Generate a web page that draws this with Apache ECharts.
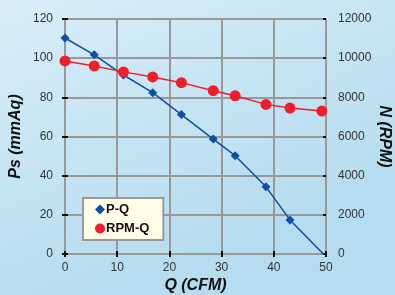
<!DOCTYPE html>
<html><head><meta charset="utf-8">
<script src="https://cdn.jsdelivr.net/npm/echarts@6/dist/echarts.min.js"></script>
<style>html,body{margin:0;padding:0;}#c{width:395px;height:295px;}</style>
</head><body><div id="c"></div>
<script>
const flowQ = [0, 5.6, 11.2, 16.8, 22.3, 28.4, 32.6, 38.5, 43.1, 49.5];
const pressurePs = [110.3, 101.7, 91.4, 82.4, 71.2, 58.7, 50.2, 34.3, 17.4, 0];
const rpmQ = [0, 5.6, 11.2, 16.8, 22.3, 28.4, 32.6, 38.5, 43.1, 49.2];
const rpmN = [9860, 9600, 9300, 9040, 8750, 8340, 8080, 7640, 7450, 7300];
const xTicks = [0, 10, 20, 30, 40, 50];
const psTicks = [0, 20, 40, 60, 80, 100, 120];
const rpmTicks = [0, 2000, 4000, 6000, 8000, 10000, 12000];

const gridLine = {color: '#999999', width: 2};
const labelStyle = {color: '#333333', fontSize: 12, fontFamily: 'Liberation Sans, Arial, sans-serif'};
const titleStyle = {color: '#111111', fontSize: 16, fontWeight: 'bold', fontStyle: 'italic', fontFamily: 'Liberation Sans, Arial, sans-serif'};
const tickOut = {show: true, inside: false, length: 3, lineStyle: {color: '#111', width: 2}};
const tickIn = {show: true, inside: true, length: 3, lineStyle: {color: '#111', width: 2}};

const chart = echarts.init(document.getElementById('c'));
chart.setOption({
  animation: false,
  backgroundColor: {type: 'linear', x: 0, y: 0, x2: 0.3, y2: 1, colorStops: [{offset: 0, color: '#d9eef8'}, {offset: 1, color: '#b5dcef'}]},
  grid: {left: 65, right: 69, top: 19, bottom: 41, containLabel: false, outerBoundsMode: 'none'},
  legend: {
    orient: 'vertical', left: 83, top: 198, width: 78,
    padding: [5, 14, 5, 12], itemGap: 6, itemWidth: 10, itemHeight: 10,
    backgroundColor: '#fffde8', borderColor: '#999999', borderWidth: 2,
    textStyle: {color: '#111', fontSize: 13, fontWeight: 'bold', fontFamily: 'Liberation Sans, Arial, sans-serif', padding: [0, 0, 0, -4]},
    data: [{name: 'P-Q', icon: 'diamond'}, {name: 'RPM-Q', icon: 'circle'}]
  },
  xAxis: [{
    type: 'value', min: 0, max: 50, interval: 10,
    name: 'Q (CFM)', nameLocation: 'middle', nameGap: 24, nameMoveOverlap: false, nameTextStyle: titleStyle,
    axisLine: {show: true, lineStyle: gridLine}, axisTick: tickOut,
    axisLabel: Object.assign({margin: 8, formatter: v => xTicks.includes(v) ? String(v) : ''}, labelStyle),
    splitLine: {show: true, lineStyle: gridLine}
  }, {
    type: 'value', min: 0, max: 50, interval: 10, position: 'bottom',
    axisLine: {show: false}, axisTick: tickIn, axisLabel: {show: false}, splitLine: {show: false}
  }],
  yAxis: [{
    type: 'value', min: 0, max: 120, interval: 20, position: 'left',
    name: 'Ps (mmAq)', nameLocation: 'middle', nameGap: 41, nameMoveOverlap: false, nameTextStyle: titleStyle,
    axisLine: {show: true, lineStyle: gridLine}, axisTick: tickOut,
    axisLabel: Object.assign({margin: 12, formatter: v => psTicks.includes(v) ? String(v) : ''}, labelStyle),
    splitLine: {show: true, lineStyle: gridLine}
  }, {
    type: 'value', min: 0, max: 12000, interval: 2000, position: 'right',
    name: 'N (RPM)', nameLocation: 'middle', nameGap: 50, nameRotate: -90, nameMoveOverlap: false, nameTextStyle: titleStyle,
    axisLine: {show: true, lineStyle: gridLine}, axisTick: tickOut,
    axisLabel: Object.assign({margin: 12, formatter: v => rpmTicks.includes(v) ? String(v) : ''}, labelStyle),
    splitLine: {show: false}
  }, {
    type: 'value', min: 0, max: 120, interval: 20, position: 'left',
    axisLine: {show: false}, axisTick: tickIn, axisLabel: {show: false}, splitLine: {show: false}
  }, {
    type: 'value', min: 0, max: 12000, interval: 2000, position: 'right',
    axisLine: {show: false}, axisTick: tickIn, axisLabel: {show: false}, splitLine: {show: false}
  }],
  series: [{
    name: 'P-Q', type: 'line', xAxisIndex: 0, yAxisIndex: 0,
    data: flowQ.map((q, i) => [q, pressurePs[i]]),
    symbol: 'diamond', symbolSize: (v, p) => p.dataIndex === flowQ.length - 1 ? 0 : 9,
    itemStyle: {color: '#0d4fa6'}, lineStyle: {color: '#0d4fa6', width: 1.5}
  }, {
    name: 'RPM-Q', type: 'line', xAxisIndex: 0, yAxisIndex: 1,
    data: rpmQ.map((q, i) => [q, rpmN[i]]),
    symbol: 'circle', symbolSize: 11,
    itemStyle: {color: '#ee1f2b'}, lineStyle: {color: '#ee1f2b', width: 1.5}
  }]
});
</script></body></html>
